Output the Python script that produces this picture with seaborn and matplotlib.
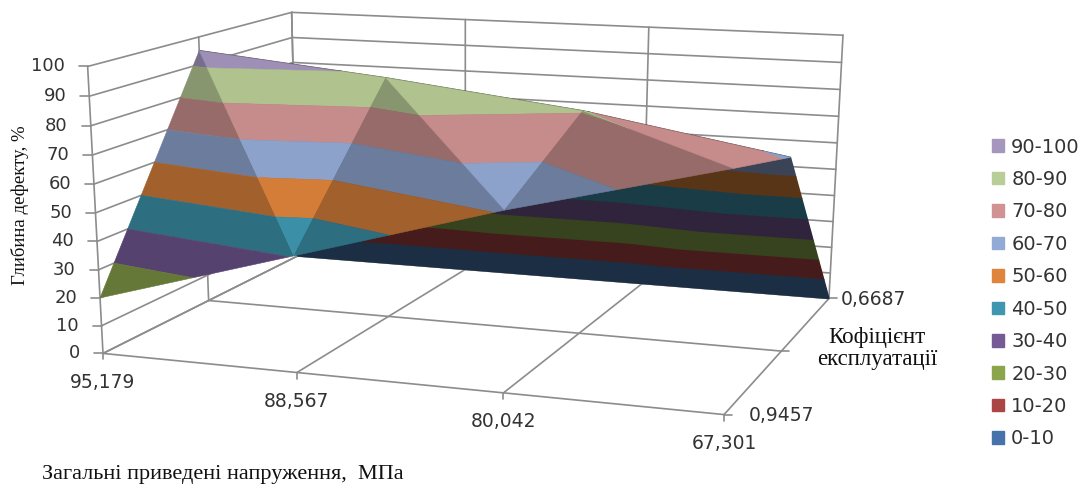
import numpy as np
import pandas as pd
import seaborn as sns
import matplotlib.pyplot as plt
from matplotlib.patches import Patch

# Дані
x_labels = ["95,179", "88,567", "80,042", "67,301"]
depth_labels = ["0,9457", "", "0,6687"]
z_ticks = [0, 10, 20, 30, 40, 50, 60, 70, 80, 90, 100]

z_front = [20, 40.5, 61, 79]
z_mid = [95, 88.5, 80.5, 68.5]
z_back = [0, 0, 0, 0]

band_labels = ["90-100", "80-90", "70-80", "60-70", "50-60", "40-50", "30-40", "20-30", "10-20", "0-10"]
band_low = [90, 80, 70, 60, 50, 40, 30, 20, 10, 0]
band_colors = ["#a596be", "#b9cd96", "#d09292", "#94aad6", "#de843c",
               "#3e96af", "#765a96", "#8aa54b", "#ac4644", "#4673aa"]

# Прив'язка осей до пікселів (стовпець, ряд, висота) -> (px, py)
anchors = [
    (0, 0, 0, 103, 353), (0, 0, 100, 88, 66), (3, 0, 0, 722, 415),
    (1, 0, 0, 297, 373), (2, 0, 0, 503, 393),
    (0, 1, 0, 209, 300), (0, 1, 100, 198, 37), (3, 1, 0, 785, 351),
    (1, 1, 0, 390, 317), (2, 1, 0, 578, 333),
    (0, 2, 0, 297, 258), (0, 2, 100, 292, 12), (3, 2, 0, 828, 298),
    (3, 2, 100, 843, 36), (1, 2, 0, 465, 268), (2, 2, 0, 642, 283),
]

rows = []
for cx, cy, cz, px, py in anchors:
    v = [cx, cy, cz / 100, 1]
    u, w = px / 1000, py / 1000
    rows.append(v + [0, 0, 0, 0] + [-u * a for a in v])
    rows.append([0, 0, 0, 0] + v + [-w * a for a in v])
camera = np.linalg.svd(np.array(rows))[2][-1].reshape(3, 4)


def project(cx, cy, cz):
    h = camera @ np.array([cx, cy, cz / 100, 1.0])
    return h[0] / h[2] * 1000, h[1] / h[2] * 1000


def clip(poly, level, keep_above):
    # обрізка многокутника площиною z = level
    out = []
    for i, p in enumerate(poly):
        q = poly[(i + 1) % len(poly)]
        p_in = p[2] >= level if keep_above else p[2] <= level
        q_in = q[2] >= level if keep_above else q[2] <= level
        if p_in:
            out.append(p)
        if p_in != q_in:
            t = (level - p[2]) / (q[2] - p[2])
            out.append(tuple(p[k] + t * (q[k] - p[k]) for k in range(3)))
    return out


def shaded(color, factor):
    return tuple(c * factor for c in plt.matplotlib.colors.to_rgb(color))


sns.set_theme(style="white")
fig = plt.figure(figsize=(10.82, 4.88), dpi=100)
ax = fig.add_axes([0, 0, 1, 1])

# Сітка: стінки, підлога та поділки
segments = []
for z in z_ticks:
    segments.append([(0, 0, z), (0, 2, z)])
    segments.append([(0, 2, z), (3, 2, z)])
for r in range(3):
    segments.append([(0, r, 0), (0, r, 100)])
    segments.append([(0, r, 0), (3, r, 0)])
for c in range(4):
    segments.append([(c, 0, 0), (c, 2, 0)])
    segments.append([(c, 2, 0), (c, 2, 100)])

records = []
for n, seg in enumerate(segments):
    for pt in seg:
        px, py = project(*pt)
        records.append({"seg": n, "px": px, "py": py})
n = len(segments)
for z in z_ticks:
    px, py = project(0, 0, z)
    records += [{"seg": n, "px": px, "py": py}, {"seg": n, "px": px - 9, "py": py}]
    n += 1
for c in range(4):
    px, py = project(c, 0, 0)
    records += [{"seg": n, "px": px, "py": py}, {"seg": n, "px": px, "py": py + 6}]
    n += 1
for r in range(3):
    px, py = project(3, r, 0)
    records += [{"seg": n, "px": px, "py": py}, {"seg": n, "px": px + 8, "py": py}]
    n += 1
grid = pd.DataFrame(records)
sns.lineplot(data=grid, x="px", y="py", units="seg", estimator=None, sort=False,
             color="#8c8c8c", linewidth=1.2, legend=False, ax=ax)

# Поверхня: спочатку задня частина (темна), потім передня
surface = [z_front, z_mid, z_back]


def vertex(c, r):
    return (c, r, surface[r][c])


facets = []
for c in range(3):
    facets.append(([vertex(c, 1), vertex(c + 1, 1), vertex(c, 2)], 0.40, 1.0))
    facets.append(([vertex(c + 1, 1), vertex(c + 1, 2), vertex(c, 2)], 0.40, 1.0))
for c in range(3):
    facets.append(([vertex(c, 0), vertex(c, 1), vertex(c + 1, 0)], 0.73, 0.4))
    facets.append(([vertex(c, 1), vertex(c + 1, 0), vertex(c + 1, 1)], 0.95, 0.4))

for tri, factor, edge in facets:
    for low, color in zip(band_low, band_colors):
        part = clip(tri, low, True)
        if part:
            part = clip(part, low + 10, False)
        if len(part) < 3:
            continue
        xy = [project(*p) for p in part]
        col = shaded(color, factor)
        ax.fill([p[0] for p in xy], [p[1] for p in xy], facecolor=col,
                edgecolor=col, linewidth=edge, zorder=3)

# Підписи осей
text_color = "#333333"
for z in z_ticks:
    px, py = project(0, 0, z)
    ax.text(px - 23, py, str(z), ha="right", va="center", fontsize=13, color=text_color)
for c, label in enumerate(x_labels):
    px, py = project(c, 0, 0)
    ax.text(px, py + 29, label, ha="center", va="center", fontsize=13.5, color=text_color)
for r, label in enumerate(depth_labels):
    px, py = project(3, r, 0)
    ax.text(px + 12 if r else px + 25, py + 1, label, ha="left", va="center",
            fontsize=13.5, color=text_color)

serif = "Liberation Serif"
ax.text(20, 205, "Глибина дефекту, %", rotation=90, ha="center", va="center",
        fontsize=13.5, family=serif, color="#111111")
ax.text(877, 338, "Кофіцієнт", ha="center", va="center", fontsize=16.5, family=serif, color="#111111")
ax.text(877, 360, "експлуатації", ha="center", va="center", fontsize=16.5, family=serif, color="#111111")
ax.text(42, 475, "Загальні приведені напруження,  МПа", ha="left", va="center",
        fontsize=16, family=serif, color="#111111")

handles = [Patch(facecolor=c, edgecolor=c, label=l) for c, l in zip(band_colors, band_labels)]
leg = ax.legend(handles=handles, loc="center left", bbox_to_anchor=(992, 293),
                bbox_transform=ax.transData, frameon=False, fontsize=14, borderpad=0,
                borderaxespad=0, handlelength=0.62, handleheight=0.62,
                handletextpad=0.37, labelspacing=0.69)
for t in leg.get_texts():
    t.set_color(text_color)

ax.set_xlim(0, 1082)
ax.set_ylim(488, 0)
ax.axis("off")
fig.savefig("out.png", dpi=100)
